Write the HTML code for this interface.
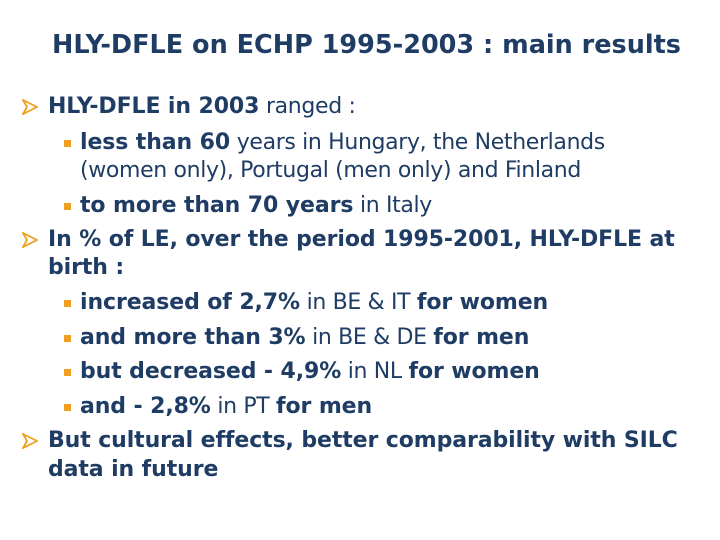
<!DOCTYPE html>
<html><head><meta charset="utf-8"><style>
body{margin:0;width:720px;height:540px;background:#fff;position:relative;overflow:hidden;font-family:"DejaVu Sans","Liberation Sans",sans-serif;color:#1f3c64}
.l{position:absolute;white-space:nowrap;font-size:22px;line-height:26px;letter-spacing:-0.35px}
b{font-weight:bold;letter-spacing:-0.1px}
.t{position:absolute;left:52px;top:30px;font-size:25.5px;font-weight:bold;white-space:nowrap;line-height:30px}
.arr{position:absolute;width:16px;height:16px}
.sq{position:absolute;width:7px;height:7px;background:#f0a020}
</style></head><body>
<div class="t">HLY-DFLE on ECHP 1995-2003 : main results</div>

<svg class="arr" style="left:22px;top:99px" viewBox="0 0 16 16"><path d="M1 1 L15 8 L1 15 L5 8 Z" fill="none" stroke="#f0a020" stroke-width="1.8"/></svg>
<div class="l" style="left:48px;top:94px"><b>HLY-DFLE in 2003</b> ranged :</div>

<div class="sq" style="left:64px;top:140px"></div>
<div class="l" style="left:80px;top:130px"><b>less than 60</b> years in Hungary, the Netherlands</div>
<div class="l" style="left:80px;top:158px">(women only), Portugal (men only) and Finland</div>

<div class="sq" style="left:64px;top:203px"></div>
<div class="l" style="left:80px;top:193px"><b>to more than 70 years</b> in Italy</div>

<svg class="arr" style="left:22px;top:232px" viewBox="0 0 16 16"><path d="M1 1 L15 8 L1 15 L5 8 Z" fill="none" stroke="#f0a020" stroke-width="1.8"/></svg>
<div class="l" style="left:48px;top:227px"><b>In % of LE, over the period 1995-2001, HLY-DFLE at</b></div>
<div class="l" style="left:48px;top:255px"><b>birth :</b></div>

<div class="sq" style="left:64px;top:300px"></div>
<div class="l" style="left:80px;top:290px"><b>increased of 2,7%</b> in BE &amp; IT <b>for women</b></div>
<div class="sq" style="left:64px;top:335px"></div>
<div class="l" style="left:80px;top:325px"><b>and more than 3%</b> in BE &amp; DE <b>for men</b></div>
<div class="sq" style="left:64px;top:369px"></div>
<div class="l" style="left:80px;top:359px"><b>but decreased - 4,9%</b> in NL <b>for women</b></div>
<div class="sq" style="left:64px;top:404px"></div>
<div class="l" style="left:80px;top:394px"><b>and - 2,8%</b> in PT <b>for men</b></div>

<svg class="arr" style="left:22px;top:433px" viewBox="0 0 16 16"><path d="M1 1 L15 8 L1 15 L5 8 Z" fill="none" stroke="#f0a020" stroke-width="1.8"/></svg>
<div class="l" style="left:48px;top:428px"><b>But cultural effects, better comparability with SILC</b></div>
<div class="l" style="left:48px;top:457px"><b>data in future</b></div>
</body></html>
